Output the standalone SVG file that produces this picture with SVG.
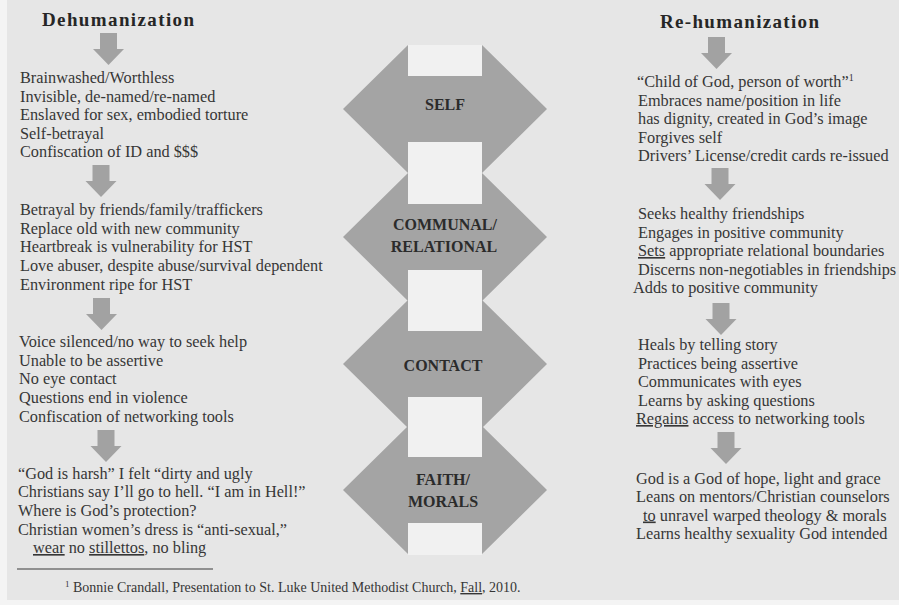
<svg xmlns="http://www.w3.org/2000/svg" width="899" height="605" viewBox="0 0 899 605">
<defs>
<style>
.t{font-family:"Liberation Serif","Times New Roman",serif;font-size:16.3px;fill:#363636}
.h{font-family:"Liberation Serif","Times New Roman",serif;font-size:19px;font-weight:bold;fill:#262626}
.c{font-family:"Liberation Serif","Times New Roman",serif;font-size:16px;font-weight:bold;fill:#2b2b2b;text-anchor:middle}
.f{font-family:"Liberation Serif","Times New Roman",serif;font-size:14px;fill:#363636}
.big{fill:#a4a4a4}
.dn{fill:#a2a2a2}
.u{text-decoration:underline}
</style>
<path id="darr" d="M-8.5 0H8.5V16H15.5L0 32L-15.5 16H-8.5Z"/>
</defs>
<rect x="0" y="0" width="899" height="605" fill="#f4f4f4"/>
<rect x="7" y="0" width="892" height="600" fill="#e6e6e6"/>
<rect x="408" y="45" width="74" height="510" fill="#f1f1f1"/>

<g id="headings">
<text class="h" x="42" y="26" textLength="152" lengthAdjust="spacing">Dehumanization</text>
<text class="h" x="660" y="28" textLength="159" lengthAdjust="spacing">Re-humanization</text>
</g>

<g id="self">
<polygon class="big" points="343,109 408,45 408,76 482,76 482,45 547,109 482,173 482,142 408,142 408,173"/>
<text class="c" x="445" y="110">SELF</text>
</g>
<g id="communal">
<polygon class="big" points="343,237 408,173 408,204 482,204 482,173 547,237 482,301 482,270 408,270 408,301"/>
<text class="c" x="445" y="230">COMMUNAL/</text>
<text class="c" x="444" y="252">RELATIONAL</text>
</g>
<g id="contact">
<polygon class="big" points="343,364 408,300 408,331 482,331 482,300 547,364 482,428 482,397 408,397 408,428"/>
<text class="c" x="443" y="371">CONTACT</text>
</g>
<g id="faith">
<polygon class="big" points="343,490 408,426 408,457 482,457 482,426 547,490 482,554 482,523 408,523 408,554"/>
<text class="c" x="443" y="485">FAITH/</text>
<text class="c" x="443" y="507">MORALS</text>
</g>

<g id="connectors">
<use href="#darr" class="dn" x="108.5" y="33"/>
<use href="#darr" class="dn" x="101" y="165"/>
<use href="#darr" class="dn" x="101.5" y="298"/>
<use href="#darr" class="dn" x="106" y="430"/>
<use href="#darr" class="dn" x="716.5" y="37"/>
<use href="#darr" class="dn" x="720" y="168"/>
<use href="#darr" class="dn" x="721" y="303"/>
<use href="#darr" class="dn" x="726" y="432"/>
</g>

<g id="dehum-self">
<text class="t" x="20" y="83">Brainwashed/Worthless</text>
<text class="t" x="20" y="101.5">Invisible, de-named/re-named</text>
<text class="t" x="20" y="120">Enslaved for sex, embodied torture</text>
<text class="t" x="20" y="138.5">Self-betrayal</text>
<text class="t" x="20" y="157">Confiscation of ID and $$$</text>
</g>
<g id="dehum-communal">
<text class="t" x="20" y="215">Betrayal by friends/family/traffickers</text>
<text class="t" x="20" y="233.5">Replace old with new community</text>
<text class="t" x="20" y="252">Heartbreak is vulnerability for HST</text>
<text class="t" x="20" y="271">Love abuser, despite abuse/survival dependent</text>
<text class="t" x="20" y="290">Environment ripe for HST</text>
</g>
<g id="dehum-contact">
<text class="t" x="19" y="347">Voice silenced/no way to seek help</text>
<text class="t" x="19" y="365.5">Unable to be assertive</text>
<text class="t" x="19" y="384">No eye contact</text>
<text class="t" x="19" y="403">Questions end in violence</text>
<text class="t" x="19" y="421.5">Confiscation of networking tools</text>
</g>
<g id="dehum-faith">
<text class="t" x="18" y="478.5">“God is harsh” I felt “dirty and ugly</text>
<text class="t" x="18" y="497">Christians say I’ll go to hell. “I am in Hell!”</text>
<text class="t" x="18" y="515.5">Where is God’s protection?</text>
<text class="t" x="18" y="534.5">Christian women’s dress is “anti-sexual,”</text>
<text class="t" x="33" y="553"><tspan class="u">wear</tspan> no <tspan class="u">stillettos</tspan>, no bling</text>
</g>

<g id="rehum-self">
<text class="t" x="637" y="87">“Child of God, person of worth”<tspan font-size="10" dy="-6">1</tspan></text>
<text class="t" x="638" y="105.5">Embraces name/position in life</text>
<text class="t" x="638" y="124">has dignity, created in God’s image</text>
<text class="t" x="638" y="142.5">Forgives self</text>
<text class="t" x="638" y="161">Drivers’ License/credit cards re-issued</text>
</g>
<g id="rehum-communal">
<text class="t" x="638" y="219">Seeks healthy friendships</text>
<text class="t" x="638" y="237.5">Engages in positive community</text>
<text class="t" x="638" y="256"><tspan class="u">Sets</tspan> appropriate relational boundaries</text>
<text class="t" x="638" y="274.5">Discerns non-negotiables in friendships</text>
<text class="t" x="633" y="293">Adds to positive community</text>
</g>
<g id="rehum-contact">
<text class="t" x="638" y="350">Heals by telling story</text>
<text class="t" x="638" y="368.5">Practices being assertive</text>
<text class="t" x="638" y="387">Communicates with eyes</text>
<text class="t" x="638" y="405.5">Learns by asking questions</text>
<text class="t" x="636" y="424"><tspan class="u">Regains</tspan> access to networking tools</text>
</g>
<g id="rehum-faith">
<text class="t" x="636" y="483.5">God is a God of hope, light and grace</text>
<text class="t" x="636" y="502">Leans on mentors/Christian counselors</text>
<text class="t" x="643" y="520.5"><tspan class="u">to</tspan> unravel warped theology &amp; morals</text>
<text class="t" x="636" y="539">Learns healthy sexuality God intended</text>
</g>

<g id="footnote">
<line x1="17" y1="569" x2="213" y2="569" stroke="#3a3a3a" stroke-width="1"/>
<text class="f" x="65" y="592"><tspan font-size="9" dy="-5">1</tspan><tspan dy="5"> Bonnie Crandall, Presentation to St. Luke United Methodist Church, </tspan><tspan class="u">Fall</tspan>, 2010.</text>
</g>
</svg>
